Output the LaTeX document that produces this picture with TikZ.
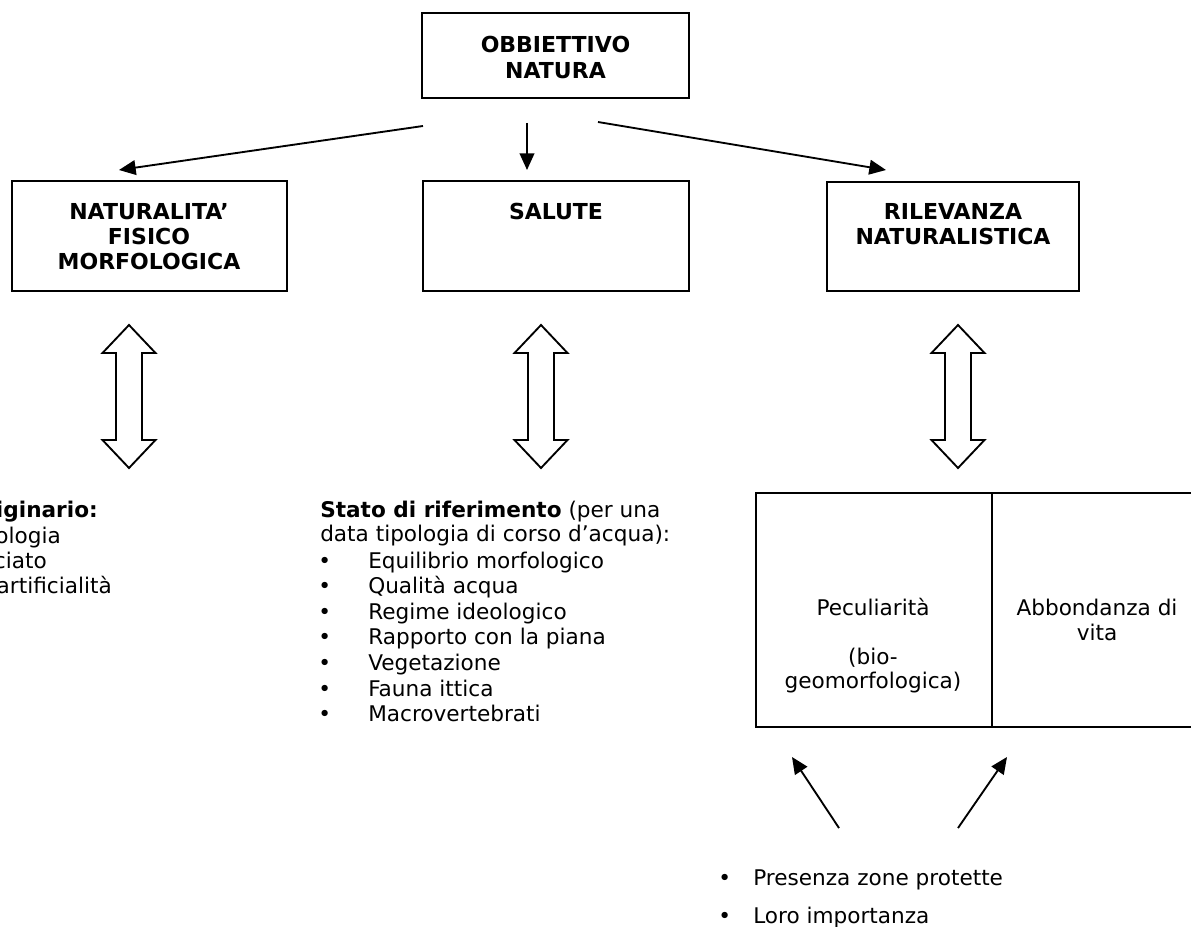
\documentclass[tikz,border=0pt]{standalone}
\usepackage{fontspec}
\setmainfont{DejaVu Sans}
\usetikzlibrary{arrows.meta}
\begin{document}
\begin{tikzpicture}[x=0.75pt,y=-0.75pt,
  boxshape/.style={draw, line width=1.4pt, inner sep=0pt},
  ttl/.style={font=\fontsize{16.5}{19.5}\selectfont\bfseries, inner sep=0pt, anchor=base},
  txt/.style={font=\fontsize{16.2}{19.5}\selectfont, inner sep=0pt, anchor=base west},
  ctxt/.style={font=\fontsize{16.2}{19.5}\selectfont, inner sep=0pt, anchor=base},
  rtxt/.style={font=\fontsize{16.2}{19.5}\selectfont, inner sep=0pt, anchor=base east},
  arr/.style={-{Triangle[length=12.5pt,width=11pt]}, line width=1.4pt},
  dblarrow/.pic={\draw[line width=1.4pt, fill=white] (0,0) -- (26.5,28) -- (13,28) -- (13,115) -- (26.5,115) -- (0,143) -- (-26.5,115) -- (-13,115) -- (-13,28) -- (-26.5,28) -- cycle;}
]
\useasboundingbox (0,0) rectangle (1191,927);

% boxes
\node[boxshape, minimum width=200.25pt, minimum height=63.75pt] (top) at (555.5,55.5) {};
\node[boxshape, minimum width=206.25pt, minimum height=82.5pt] (left) at (149.5,236) {};
\node[boxshape, minimum width=199.5pt, minimum height=82.5pt] (mid) at (556,236) {};
\node[boxshape, minimum width=189pt, minimum height=81.75pt] (right) at (953,236.5) {};

% titles
\node[ttl] (t1) at (555.5,52.5) {OBBIETTIVO};
\node[ttl] (t2) at (555.5,78.5) {NATURA};
\node[ttl] (l1) at (149,219.5) {NATURALITA’};
\node[ttl] (l2) at (149,244.5) {FISICO};
\node[ttl] (l3) at (149,269.5) {MORFOLOGICA};
\node[ttl] (m1) at (556,219.5) {SALUTE};
\node[ttl] (r1) at (953,219.5) {RILEVANZA};
\node[ttl] (r2) at (953,244.5) {NATURALISTICA};

% arrows from top
\coordinate (sL) at (423,126); \coordinate (eL) at (119,170);
\coordinate (sM) at (527,123); \coordinate (eM) at (527,170);
\coordinate (sR) at (598,122); \coordinate (eR) at (886,170);
\draw[arr] (sL) -- (eL);
\draw[arr] (sM) -- (eM);
\draw[arr] (sR) -- (eR);

% double arrows
\pic at (129,325) {dblarrow};
\pic at (541,325) {dblarrow};
\pic at (958,325) {dblarrow};

% left (cut) text
\node[rtxt, font=\fontsize{16.2}{19.5}\selectfont\bfseries] (o1) at (98,517) {iginario:};
\node[rtxt] (o2) at (61,543) {ologia};
\node[rtxt] (o3) at (47,568) {ciato};
\node[rtxt] (o4) at (112,593) {artificialità};

% middle text
\node[txt] (s1) at (320,517) {\textbf{Stato di riferimento} (per una};
\node[txt] (s2) at (320,541) {data tipologia di corso d’acqua):};
\foreach \t [count=\i] in {Equilibrio morfologico, Qualità acqua, Regime ideologico, Rapporto con la piana, Vegetazione, Fauna ittica, Macrovertebrati}{
  \node[txt] (b\i) at (318,542.4+25.6*\i) {•};
  \node[txt] (c\i) at (368,542.4+25.6*\i) {\t};
}

% table
\draw[line width=1.4pt] (1191,493) -- (756,493) -- (756,727) -- (1191,727);
\draw[line width=1.4pt] (992,493) -- (992,727);
\node[ctxt] (p1) at (873,615) {Peculiarità};
\node[ctxt] (p2) at (873,664) {(bio-};
\node[ctxt] (p3) at (873,688) {geomorfologica)};
\node[ctxt] (a1) at (1097,615) {Abbondanza di};
\node[ctxt] (a2) at (1097,640) {vita};

% bottom arrows
\coordinate (u1) at (839,828); \coordinate (v1) at (792,757);
\coordinate (u2) at (958,828); \coordinate (v2) at (1007,757);
\draw[arr] (u1) -- (v1);
\draw[arr] (u2) -- (v2);

% bottom list
\node[txt] (z0) at (718,885) {•};
\node[txt] (z1) at (753,885) {Presenza zone protette};
\node[txt] (z2) at (718,923) {•};
\node[txt] (z3) at (753,923) {Loro importanza};
\end{tikzpicture}
\end{document}
